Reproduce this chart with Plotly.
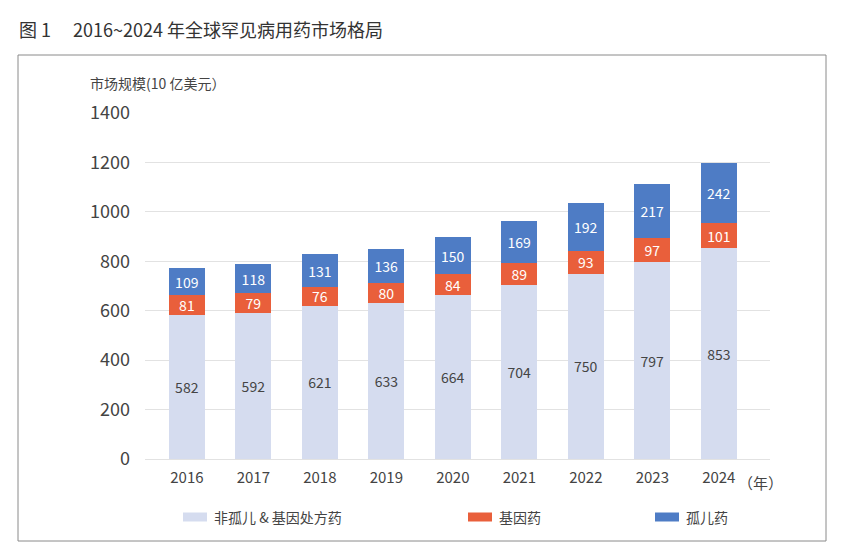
import plotly.graph_objects as go

years = ["2016", "2017", "2018", "2019", "2020", "2021", "2022", "2023", "2024"]
non_orphan = [582, 592, 621, 633, 664, 704, 750, 797, 853]
gene = [81, 79, 76, 80, 84, 89, 93, 97, 101]
orphan = [109, 118, 131, 136, 150, 169, 192, 217, 242]
y_ticks = [0, 200, 400, 600, 800, 1000, 1200, 1400]
series_names = ["非孤儿 & 基因处方药", "基因药", "孤儿药"]
series_colors = ["#d5dcef", "#e95f3b", "#4e7cc5"]

FONT = "Noto Sans CJK SC, Noto Sans, sans-serif"
OFF = 8                      # default body margin of the html page
W, H = 843 - 2 * OFF, 552 - 2 * OFF
# plot area in page pixels
L, R, T, B = 145, 770, 113, 459


def px_x(p):
    return (p - L) / (R - L)


def px_y(p):
    return (B - p) / (B - T)


fig = go.Figure()
label_colors = ["#444444", "#ffffff", "#ffffff"]
for vals, name, col, tcol in zip([non_orphan, gene, orphan], series_names,
                                 series_colors, label_colors):
    fig.add_trace(go.Bar(
        x=years, y=vals, name=name,
        marker=dict(color=col, line=dict(width=0)),
        text=[str(v) for v in vals], textposition="inside",
        insidetextanchor="middle", textangle=0, constraintext="none",
        textfont=dict(color=tcol, size=14, family=FONT),
        showlegend=False,
    ))

shapes = [
    dict(type="rect", xref="paper", yref="paper",
         x0=px_x(18), x1=px_x(826), y0=px_y(541), y1=px_y(55),
         line=dict(color="#8a8a8a", width=1), layer="below"),
]
annotations = [
    dict(text="图 1　 2016~2024 年全球罕见病用药市场格局",
         xref="paper", yref="paper", x=px_x(17), y=px_y(29),
         xanchor="left", yanchor="middle", showarrow=False,
         font=dict(size=18, color="#333333", family=FONT)),
    dict(text="市场规模(10 亿美元）",
         xref="paper", yref="paper", x=px_x(88), y=px_y(83),
         xanchor="left", yanchor="middle", showarrow=False,
         font=dict(size=14, color="#444444", family=FONT)),
    dict(text="（年）",
         xref="paper", yref="paper", x=px_x(736), y=px_y(482),
         xanchor="left", yanchor="middle", showarrow=False,
         font=dict(size=15, color="#444444", family=FONT)),
]

# legend drawn as swatches + text (page pixel positions)
legend_swatch_x = [183, 468, 655]
leg_y = 517
for sx, name, col in zip(legend_swatch_x, series_names, series_colors):
    shapes.append(dict(type="rect", xref="paper", yref="paper",
                       x0=px_x(sx), x1=px_x(sx + 24),
                       y0=px_y(leg_y + 4.5), y1=px_y(leg_y - 4.5),
                       fillcolor=col, line=dict(width=0)))
    annotations.append(dict(text=name, xref="paper", yref="paper",
                            x=px_x(sx + 29), y=px_y(leg_y),
                            xanchor="left", yanchor="middle", showarrow=False,
                            font=dict(size=14, color="#444444", family=FONT)))

fig.update_layout(
    width=W, height=H,
    margin=dict(l=L - OFF, r=W - (R - OFF), t=T - OFF, b=H - (B - OFF)),
    paper_bgcolor="white", plot_bgcolor="white",
    barmode="stack", bargap=0.46,
    showlegend=False,
    xaxis=dict(
        type="category", range=[-0.63, 8.77],
        showgrid=False, zeroline=False, showline=False, ticks="",
        tickfont=dict(size=15, color="#444444", family=FONT),
        ticklabelstandoff=8,
    ),
    yaxis=dict(
        range=[0, 1400], tickvals=y_ticks,
        showgrid=True, gridcolor="#e2e2e2", gridwidth=1,
        zeroline=True, zerolinecolor="#e2e2e2", zerolinewidth=1,
        showline=False, ticks="",
        tickfont=dict(size=18, color="#444444", family=FONT),
        ticklabelstandoff=14,
    ),
    font=dict(family=FONT),
    shapes=shapes,
    annotations=annotations,
)

fig.write_html("out.html")
